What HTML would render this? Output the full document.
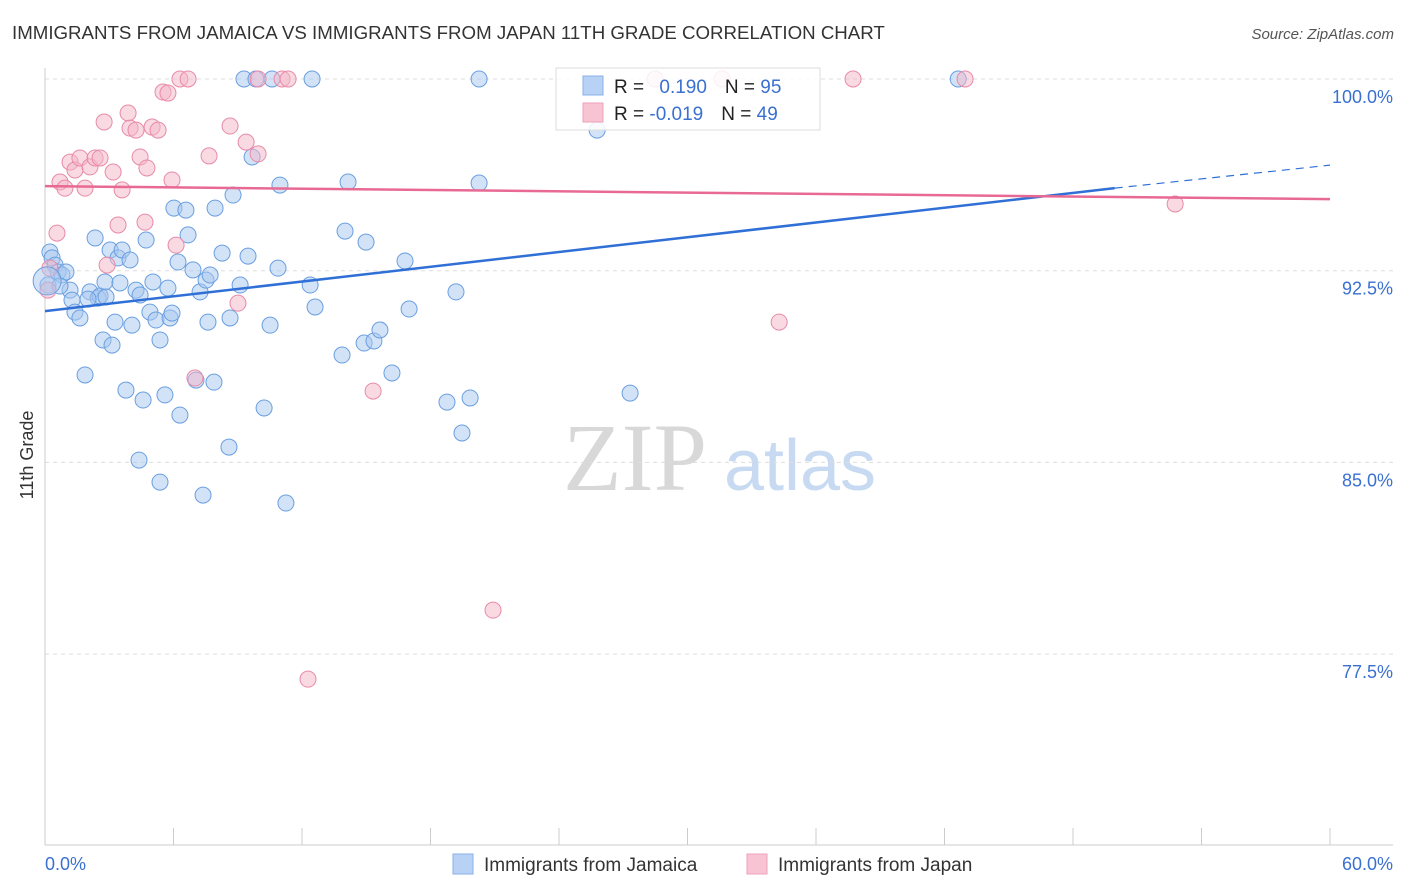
<!DOCTYPE html>
<html><head><meta charset="utf-8"><style>
body{margin:0;background:#fff;font-family:"Liberation Sans",sans-serif;}
svg{display:block}
</style></head><body>
<svg id="chart" width="1406" height="892" viewBox="0 0 1406 892" xmlns="http://www.w3.org/2000/svg">
<text x="12" y="39" font-size="18.7" fill="#333">IMMIGRANTS FROM JAMAICA VS IMMIGRANTS FROM JAPAN 11TH GRADE CORRELATION CHART</text>
<text x="1394" y="39" font-size="15" fill="#555" font-style="italic" text-anchor="end">Source: ZipAtlas.com</text>
<g>
<text x="635" y="490" font-size="96" font-family="Liberation Serif,serif" fill="#d8d8d8" text-anchor="middle">ZIP</text>
<text x="800" y="490" font-size="72" fill="#c8daf2" text-anchor="middle">atlas</text>
</g>
<g id="grid"></g>
<g id="axes"></g>
<g id="pts"></g>
<g id="lines"></g>
<text transform="translate(33,455) rotate(-90)" font-size="18" fill="#333" text-anchor="middle">11th Grade</text>
<g>
<rect x="556" y="68" width="264" height="62" fill="#fff" fill-opacity="0.85" stroke="#ddd"/>
<rect x="583" y="76" width="20" height="19" fill="#b8d2f5" stroke="#8ab0e8"/>
<rect x="583" y="103" width="20" height="19" fill="#f8c3d3" stroke="#eea0b8"/>
<text x="614" y="93" font-size="19" fill="#222">R = <tspan fill="#3a70d0" dx="10">0.190</tspan><tspan dx="18">N = </tspan><tspan fill="#3a70d0">95</tspan></text>
<text x="614" y="120" font-size="19" fill="#222">R = <tspan fill="#3a70d0">-0.019</tspan><tspan dx="18">N = </tspan><tspan fill="#3a70d0">49</tspan></text>
</g>
<g>
<rect x="453" y="854" width="20" height="20" fill="#b8d2f5" stroke="#8ab0e8"/>
<text x="484" y="871" font-size="19" fill="#333">Immigrants from Jamaica</text>
<rect x="747" y="854" width="20" height="20" fill="#f8c3d3" stroke="#eea0b8"/>
<text x="778" y="871" font-size="19" fill="#333">Immigrants from Japan</text>
</g>
</svg>
<script>
const yTicks=[100,92.5,85,77.5];
const yTickLabels=["100.0%","92.5%","85.0%","77.5%"];
const xTickVals=[0,6,12,18,24,30,36,42,48,54,60];
const jamX=[0.23,0.33,0.47,0.61,0.79,0.98,0.14,1.17,1.26,1.40,1.63,1.87,2.10,2.34,2.48,2.57,2.71,2.80,3.04,3.13,3.27,3.41,3.50,3.60,3.78,3.97,4.06,4.25,4.44,4.39,4.58,4.72,4.90,5.04,5.18,5.37,5.37,5.60,5.74,5.84,5.93,6.02,6.21,6.30,6.58,6.68,6.91,7.05,7.24,7.38,7.52,7.61,7.71,7.89,7.94,8.27,8.59,8.64,8.78,9.11,9.29,9.48,9.67,9.85,10.23,10.51,10.60,10.88,10.97,11.25,12.38,12.47,12.61,13.87,14.01,14.15,14.90,14.99,15.36,15.64,16.20,16.81,17.00,18.77,19.19,19.47,19.85,20.27,20.27,25.78,27.32,42.64,2.85,2.01,0.70];
const jamY=[93.23,93.0,92.72,92.45,92.33,92.45,91.94,91.74,91.35,90.88,90.65,88.42,91.67,93.78,91.43,91.51,89.79,92.06,93.31,89.59,90.49,93.0,92.02,93.31,87.83,92.92,90.37,91.74,91.55,85.09,87.44,93.70,90.88,92.06,90.57,84.23,89.79,87.64,91.82,90.65,90.84,94.95,92.84,86.85,94.87,93.90,92.53,88.22,91.67,83.72,92.13,90.49,92.33,88.14,94.95,93.19,85.60,90.65,95.46,91.94,100,93.07,96.95,100,87.13,90.37,100,92.60,95.85,83.41,91.94,100,91.08,89.20,94.05,95.97,89.67,93.62,89.75,90.18,88.50,92.88,91.0,87.36,91.67,86.15,87.52,100,95.93,98.0,87.71,100,91.47,91.39,91.90];
const japX=[0.56,0.70,0.93,1.17,1.40,1.63,1.87,2.10,2.34,2.57,2.76,2.90,3.18,3.41,3.60,3.88,3.97,4.25,4.44,4.67,4.76,5.0,5.28,5.51,5.74,5.93,6.12,6.30,6.68,7.0,7.66,8.64,9.01,9.39,9.95,9.95,11.07,11.35,12.28,15.32,20.92,28.49,31.62,34.28,37.73,42.96,52.77,0.23,0.14];
const japY=[93.97,95.97,95.73,96.75,96.44,96.91,95.73,96.56,96.91,96.91,98.32,92.72,96.36,94.29,95.66,98.67,98.08,98.0,96.95,94.40,96.52,98.12,98.0,99.49,99.45,96.05,93.50,100,100,88.30,96.99,98.16,91.23,97.53,97.07,100,100,100,76.52,87.79,79.22,100,100,90.49,100,100,95.11,92.60,91.74];
const jamTrend=[[0,90.92],[49.95,95.73]];
const jamTrendExt=[[49.95,95.73],[60,96.63]];
const japTrend=[[0,95.81],[60,95.30]];
const NS="http://www.w3.org/2000/svg";
const X=v=>45+v/60*1285;
const Y=v=>79+(100-v)*25.56;
function mk(tag,attrs,parent){const e=document.createElementNS(NS,tag);for(const k in attrs)e.setAttribute(k,attrs[k]);parent.appendChild(e);return e;}
const grid=document.getElementById('grid'),axes=document.getElementById('axes'),pts=document.getElementById('pts'),lines=document.getElementById('lines');
yTicks.forEach((t,i)=>{
 const g=mk('line',{x1:45,x2:1393,y1:Y(t),y2:Y(t),stroke:'#ddd','stroke-dasharray':'4,4'},grid);
 
 
 const l=mk('text',{x:1393,y:Y(t)+24,'font-size':18,fill:'#3a70d0','text-anchor':'end'},axes);
 l.textContent=yTickLabels[i];
 
 
});
const xa=mk('line',{x1:45,x2:1393,y1:845,y2:845,stroke:'#ccc'},axes);


const ya=mk('line',{x1:45,x2:45,y1:68,y2:845,stroke:'#ccc'},axes);


xTickVals.forEach(t=>{
 const k=mk('line',{x1:X(t),x2:X(t),y1:828,y2:845,stroke:'#ccc'},axes);
 
 
});
[[0,'0.0%','start',45],[60,'60.0%','end',1393]].forEach(a=>{
 const l=mk('text',{x:a[3],y:870,'font-size':18,fill:'#3a70d0','text-anchor':a[2]},axes);
 l.textContent=a[1];
 
 
});
jamX.forEach((x,i)=>{
 const c=mk('circle',{cx:X(x),cy:Y(jamY[i]),r:8,fill:'#a8c8f0','fill-opacity':0.5,stroke:'#6a9fe0','stroke-width':1},pts);
 
 
});
japX.forEach((x,i)=>{
 const c=mk('circle',{cx:X(x),cy:Y(japY[i]),r:8,fill:'#f4b6c8','fill-opacity':0.5,stroke:'#e88aa8','stroke-width':1},pts);
 
 
});
const big=mk('circle',{cx:X(0.1),cy:Y(92.1),r:14,fill:'#a8c8f0','fill-opacity':0.5,stroke:'#6a9fe0'},pts);


function ln(p,st,dash,name){const l=mk('line',{x1:X(p[0][0]),y1:Y(p[0][1]),x2:X(p[1][0]),y2:Y(p[1][1]),stroke:st,'stroke-width':dash?1.2:2.5},lines);if(dash)l.setAttribute('stroke-dasharray','8,6');
 
 }
ln(jamTrend,'#2f6fd6',false,'jamaica-trend-line');
ln(jamTrendExt,'#2f6fd6',true,'jamaica-trend-extension');
ln(japTrend,'#e86a94',false,'japan-trend-line');
</script>
</body></html>
